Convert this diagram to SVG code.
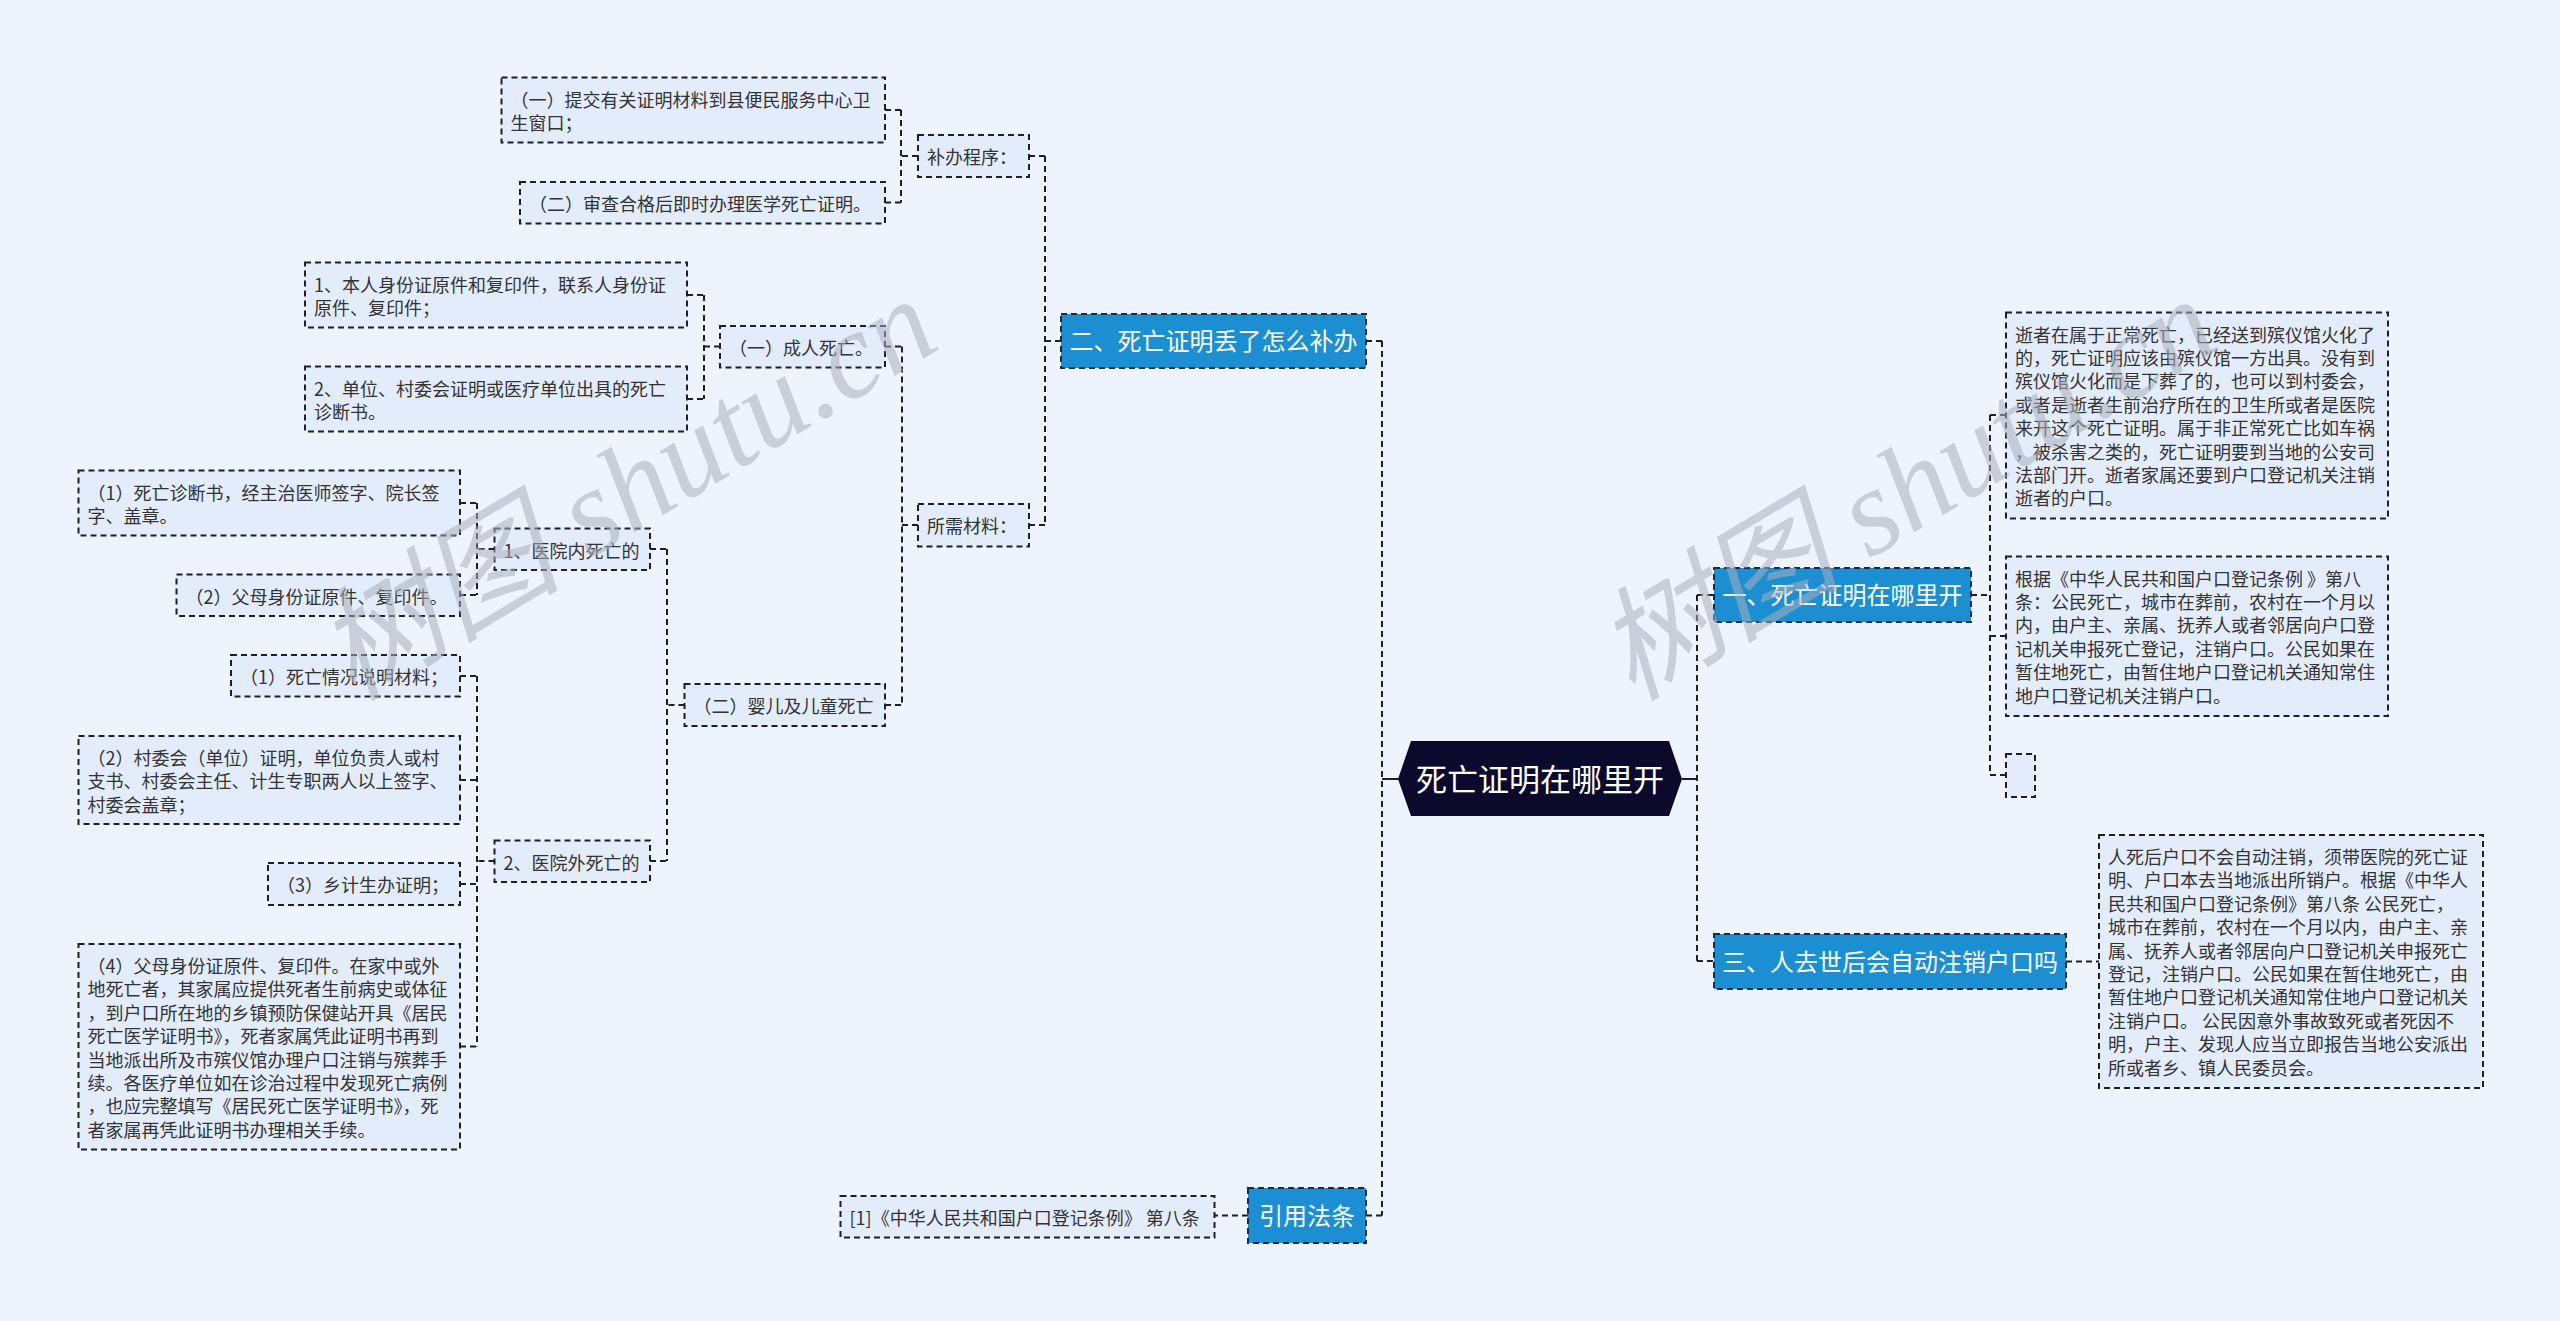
<svg xmlns="http://www.w3.org/2000/svg" width="2560" height="1321" viewBox="0 0 2560 1321">
<defs>
<style>
.bg{fill:#eef4fe}
.box{fill:#e3ecfb;stroke:#1f1f2b;stroke-width:2;stroke-dasharray:6 4}
.br{fill:#1b8fd2;stroke:#1a2a4a;stroke-width:2;stroke-dasharray:6 4}
.root{fill:#0c0a2c}
.t{font-family:"Noto Sans CJK SC","Noto Sans",sans-serif;font-size:18px;fill:#333333}
.bt{font-family:"Noto Sans CJK SC","Noto Sans",sans-serif;font-size:24px;fill:#ffffff;text-anchor:middle}
.rt{font-family:"Noto Sans CJK SC","Noto Sans",sans-serif;font-size:31px;fill:#ffffff;text-anchor:middle}
.c{fill:none;stroke:#1f1f2b;stroke-width:2;stroke-dasharray:6 4}
.s{fill:none;stroke:#1f1f2b;stroke-width:2}
.wm{font-family:"Liberation Serif","Noto Sans CJK SC",serif;font-style:italic;font-size:123px;fill:#a9aebb;fill-opacity:0.55}
</style>
</defs>
<rect class="bg" x="0" y="0" width="2560" height="1321"/>

<g id="connectors">
<path class="s" d="M1682 779H1697M1382 779H1399"/>
<path class="c" d="M1697 595V961M1697 595H1714M1697 961H1714"/>
<path class="c" d="M1971 595H1990M1990 415V775M1990 415H2006M1990 636H2006M1990 775H2006"/>
<path class="c" d="M2066 961.5H2099"/>
<path class="c" d="M1382 341V1215.5M1366 341H1382M1366 1215.5H1382M1248 1215.5H1215"/>
<path class="c" d="M1061 341H1045M1045 156V525M1029 156H1045M1029 525H1045"/>
<path class="c" d="M918 156H901M901 110V202.5M885 110H901M885 202.5H901"/>
<path class="c" d="M918 525H902M902 346.5V705M885 346.5H902M885 705H902"/>
<path class="c" d="M720 346.5H704M704 295V399M687 295H704M687 399H704"/>
<path class="c" d="M684.5 705H667M667 549V861M650 549H667M650 861H667"/>
<path class="c" d="M494.5 549H477M477 503V595M460 503H477M460 595H477"/>
<path class="c" d="M494.5 861H477M477 676V1046.5M460 676H477M460 780H477M460 884H477M460 1046.5H477"/>
</g>

<g id="root">
<polygon class="root" points="1398,779 1411,741 1669,741 1682,779 1669,816 1411,816"/>
<text class="rt" x="1540" y="791">死亡证明在哪里开</text>
</g>

<g id="branch-2">
<rect class="br" x="1061" y="314" width="305" height="54"/>
<text class="bt" x="1213.5" y="350">二、死亡证明丢了怎么补办</text>
</g>
<g id="branch-1">
<rect class="br" x="1714" y="568" width="257" height="54"/>
<text class="bt" x="1842.5" y="604">一、死亡证明在哪里开</text>
</g>
<g id="branch-3">
<rect class="br" x="1714" y="934" width="352" height="55"/>
<text class="bt" x="1890" y="970.5">三、人去世后会自动注销户口吗</text>
</g>
<g id="branch-law">
<rect class="br" x="1248" y="1188" width="118" height="55"/>
<text class="bt" x="1307" y="1224.5">引用法条</text>
</g>

<g id="n-tijiao">
<rect class="box" x="501.5" y="77.5" width="383.5" height="65"/>
<text class="t" x="510.5" y="106.5">（一）提交有关证明材料到县便民服务中心卫<tspan x="510.5" dy="23.4">生窗口；</tspan></text>
</g>
<g id="n-shencha">
<rect class="box" x="520" y="182" width="365" height="41.5"/>
<text class="t" x="529" y="211">（二）审查合格后即时办理医学死亡证明。</text>
</g>
<g id="n-bubanchengxu">
<rect class="box" x="918" y="135" width="111" height="42"/>
<text class="t" x="927" y="164">补办程序：</text>
</g>
<g id="n-benren">
<rect class="box" x="305" y="262.5" width="382" height="65"/>
<text class="t" x="314" y="291.5">1、本人身份证原件和复印件，联系人身份证<tspan x="314" dy="23.4">原件、复印件；</tspan></text>
</g>
<g id="n-danwei">
<rect class="box" x="305" y="366.5" width="382" height="65"/>
<text class="t" x="314" y="395.5">2、单位、村委会证明或医疗单位出具的死亡<tspan x="314" dy="23.4">诊断书。</tspan></text>
</g>
<g id="n-chengren">
<rect class="box" x="720" y="326" width="165" height="41.5"/>
<text class="t" x="729" y="355">（一）成人死亡。</text>
</g>
<g id="n-suoxu">
<rect class="box" x="918" y="504" width="111" height="42.5"/>
<text class="t" x="927" y="533">所需材料：</text>
</g>
<g id="n-zhenduan">
<rect class="box" x="78.5" y="470.5" width="381.5" height="65"/>
<text class="t" x="87.5" y="499.5">（1）死亡诊断书，经主治医师签字、院长签<tspan x="87.5" dy="23.4">字、盖章。</tspan></text>
</g>
<g id="n-yuannei">
<rect class="box" x="494.5" y="528.5" width="155.5" height="41.5"/>
<text class="t" x="503.5" y="557.5">1、医院内死亡的</text>
</g>
<g id="n-fumu1">
<rect class="box" x="176.5" y="574.5" width="283.5" height="41.5"/>
<text class="t" x="185.5" y="603.5">（2）父母身份证原件、复印件。</text>
</g>
<g id="n-shuoming">
<rect class="box" x="231" y="655" width="229" height="41.5"/>
<text class="t" x="240" y="684">（1）死亡情况说明材料；</text>
</g>
<g id="n-yinger">
<rect class="box" x="684.5" y="684" width="200.5" height="42"/>
<text class="t" x="693.5" y="713">（二）婴儿及儿童死亡</text>
</g>
<g id="n-cunweihui">
<rect class="box" x="78.5" y="736" width="381.5" height="88"/>
<text class="t" x="87.5" y="765">（2）村委会（单位）证明，单位负责人或村<tspan x="87.5" dy="23.4">支书、村委会主任、计生专职两人以上签字、</tspan><tspan x="87.5" dy="23.4">村委会盖章；</tspan></text>
</g>
<g id="n-yuanwai">
<rect class="box" x="494.5" y="840.5" width="155.5" height="41.5"/>
<text class="t" x="503.5" y="869.5">2、医院外死亡的</text>
</g>
<g id="n-jisheng">
<rect class="box" x="268" y="863" width="192" height="42"/>
<text class="t" x="277" y="892">（3）乡计生办证明；</text>
</g>
<g id="n-fumu2">
<rect class="box" x="78.5" y="944" width="381.5" height="205.5"/>
<text class="t" x="87.5" y="973">（4）父母身份证原件、复印件。在家中或外<tspan x="87.5" dy="23.4">地死亡者，其家属应提供死者生前病史或体征</tspan><tspan x="87.5" dy="23.4">，到户口所在地的乡镇预防保健站开具《居民</tspan><tspan x="87.5" dy="23.4">死亡医学证明书》，死者家属凭此证明书再到</tspan><tspan x="87.5" dy="23.4">当地派出所及市殡仪馆办理户口注销与殡葬手</tspan><tspan x="87.5" dy="23.4">续。各医疗单位如在诊治过程中发现死亡病例</tspan><tspan x="87.5" dy="23.4">，也应完整填写《居民死亡医学证明书》，死</tspan><tspan x="87.5" dy="23.4">者家属再凭此证明书办理相关手续。</tspan></text>
</g>

<g id="n-shizhe">
<rect class="box" x="2006" y="312.5" width="382" height="206"/>
<text class="t" x="2015" y="341.5">逝者在属于正常死亡，已经送到殡仪馆火化了<tspan x="2015" dy="23.4">的，死亡证明应该由殡仪馆一方出具。没有到</tspan><tspan x="2015" dy="23.4">殡仪馆火化而是下葬了的，也可以到村委会，</tspan><tspan x="2015" dy="23.4">或者是逝者生前治疗所在的卫生所或者是医院</tspan><tspan x="2015" dy="23.4">来开这个死亡证明。属于非正常死亡比如车祸</tspan><tspan x="2015" dy="23.4">，被杀害之类的，死亡证明要到当地的公安司</tspan><tspan x="2015" dy="23.4">法部门开。逝者家属还要到户口登记机关注销</tspan><tspan x="2015" dy="23.4">逝者的户口。</tspan></text>
</g>
<g id="n-genju">
<rect class="box" x="2006" y="556.5" width="382" height="159.5"/>
<text class="t" x="2015" y="585.5">根据《中华人民共和国户口登记条例 》第八<tspan x="2015" dy="23.4">条：公民死亡，城市在葬前，农村在一个月以</tspan><tspan x="2015" dy="23.4">内，由户主、亲属、抚养人或者邻居向户口登</tspan><tspan x="2015" dy="23.4">记机关申报死亡登记，注销户口。公民如果在</tspan><tspan x="2015" dy="23.4">暂住地死亡，由暂住地户口登记机关通知常住</tspan><tspan x="2015" dy="23.4">地户口登记机关注销户口。</tspan></text>
</g>
<g id="n-empty">
<rect class="box" x="2006" y="754" width="29" height="43"/>
</g>
<g id="n-renshihou">
<rect class="box" x="2099" y="835" width="384" height="253"/>
<text class="t" x="2108" y="864">人死后户口不会自动注销，须带医院的死亡证<tspan x="2108" dy="23.4">明、户口本去当地派出所销户。根据《中华人</tspan><tspan x="2108" dy="23.4">民共和国户口登记条例》第八条 公民死亡，</tspan><tspan x="2108" dy="23.4">城市在葬前，农村在一个月以内，由户主、亲</tspan><tspan x="2108" dy="23.4">属、抚养人或者邻居向户口登记机关申报死亡</tspan><tspan x="2108" dy="23.4">登记，注销户口。公民如果在暂住地死亡，由</tspan><tspan x="2108" dy="23.4">暂住地户口登记机关通知常住地户口登记机关</tspan><tspan x="2108" dy="23.4">注销户口。 公民因意外事故致死或者死因不</tspan><tspan x="2108" dy="23.4">明，户主、发现人应当立即报告当地公安派出</tspan><tspan x="2108" dy="23.4">所或者乡、镇人民委员会。</tspan></text>
</g>
<g id="n-law">
<rect class="box" x="840.5" y="1196" width="374" height="41.5"/>
<text class="t" x="849.5" y="1225">[1]《中华人民共和国户口登记条例》 第八条</text>
</g>

<g id="watermark">
<text class="wm" transform="translate(352,702) rotate(-31)">树图 shutu.cn</text>
<text class="wm" transform="translate(1632,702) rotate(-31)">树图 shutu.cn</text>
</g>
</svg>
